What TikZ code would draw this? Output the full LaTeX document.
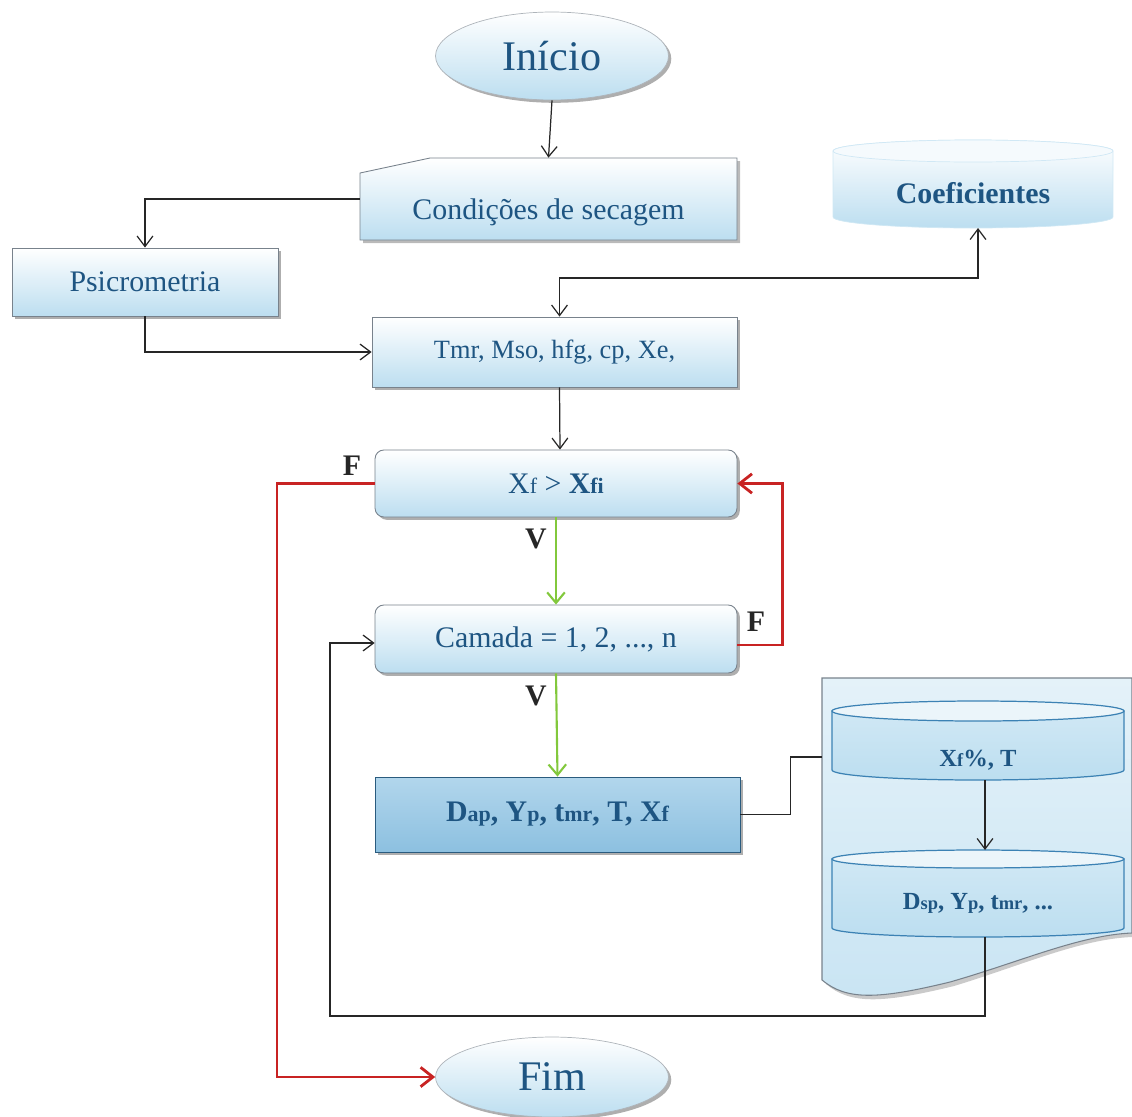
\documentclass[tikz,border=0pt]{standalone}
\usepackage{fontspec}
\setmainfont{Liberation Serif}
\usetikzlibrary{arrows.meta,shadows,shapes.geometric,calc}
\definecolor{txtblue}{RGB}{30,85,130}
\definecolor{boxblue}{RGB}{188,222,240}
\definecolor{dtop}{RGB}{178,214,236}
\definecolor{dbot}{RGB}{140,192,224}
\definecolor{edge}{RGB}{120,130,140}
\definecolor{redl}{RGB}{200,35,35}
\definecolor{greenl}{RGB}{130,200,60}
\definecolor{cylblue}{RGB}{60,130,180}
\newcommand\smA[1]{{\fontsize{12.5}{14}\selectfont #1}}
\newcommand\smB[1]{{\fontsize{10.5}{12}\selectfont #1}}
\tikzset{
  x=0.02cm, y=0.02cm,
  shad/.style={drop shadow={shadow xshift=1.6pt,shadow yshift=-1.6pt,opacity=0.45,fill=black!70}},
  box/.style={rectangle, draw=edge, line width=0.5pt, top color=white, bottom color=boxblue, shad,
    text=txtblue, font=\fontsize{17}{20}\selectfont, inner sep=0pt},
  rbox/.style={box, rounded corners=5pt},
  dbox/.style={box, top color=dtop, bottom color=dbot, draw=cylblue!70!black},
  term/.style={ellipse, draw=edge!60, line width=0.4pt, top color=white, bottom color=boxblue, shad,
    text=txtblue, font=\fontsize{24}{28}\selectfont, inner sep=0pt, minimum width=4.66cm},
  arr/.style={draw=black!85, line width=0.7pt, -{Straight Barb[length=6pt,width=9pt]}},
  redarr/.style={draw=redl, line width=1.6pt, -{Straight Barb[length=7pt,width=11pt]}},
  grarr/.style={draw=greenl, line width=1.2pt, -{Straight Barb[length=6pt,width=10pt]}},
  lbl/.style={font=\fontsize{17}{20}\selectfont\bfseries, text=black!85},
  cyltext/.style={text=txtblue, font=\fontsize{14}{17}\selectfont\bfseries}
}
\begin{document}
\begin{tikzpicture}
\useasboundingbox (0,0) rectangle (1132,-1116);

% terminals
\node[term, minimum height=1.76cm] (ini) at (552,-56) {Início};
\node[term, minimum height=1.6cm] (fim) at (552,-1077) {Fim};

% Condicoes (manual input shape)
\fill[black!60, opacity=0.45] (363,-176) -- (433,-161) -- (740,-161) -- (740,-243) -- (363,-243) -- cycle;
\path[draw=edge, line width=0.5pt, top color=white, bottom color=boxblue]
  (360,-173) -- (430,-158) -- (737,-158) -- (737,-240) -- (360,-240) -- cycle;
\node[minimum width=7.54cm, minimum height=1.64cm, inner sep=0pt] (cond) at (548.5,-199) {};
\node[text=txtblue, font=\fontsize{17}{20}\selectfont] (condt) at (548.5,-212) {Condições de secagem};

\node[box, minimum width=5.32cm, minimum height=1.36cm] (psic) at (145,-282) {Psicrometria};
\node[box, minimum width=7.3cm, minimum height=1.4cm, font=\fontsize{15}{18}\selectfont] (tmr) at (554.5,-352) {Tmr, Mso, hfg, cp, Xe,};
\node[rbox, minimum width=7.24cm, minimum height=1.34cm] (xf) at (556,-483.5) {X\smA{f} > \textbf{X\smA{fi}}};
\node[rbox, minimum width=7.24cm, minimum height=1.36cm] (cam) at (556,-639) {Camada = 1, 2, ..., n};
\node[dbox, minimum width=7.3cm, minimum height=1.5cm, font=\fontsize{17}{20}\selectfont\bfseries] (dap) at (557.5,-814.5) {D\smA{ap}, Y\smA{p}, t\smA{mr}, T, X\smA{f}};

% Coeficientes cylinder
\begin{scope}
\path[top color=white, bottom color=boxblue, draw=boxblue!70, line width=0.4pt]
  (833,-151) -- (833,-217) arc[start angle=180, end angle=360, x radius=2.8cm, y radius=0.22cm]
  -- (1113,-151) arc[start angle=0, end angle=180, x radius=2.8cm, y radius=0.22cm] -- cycle;
\draw[boxblue!70, line width=0.4pt, fill=white!85!boxblue] (973,-151) ellipse[x radius=2.8cm, y radius=0.22cm];
\node[text=txtblue, font=\fontsize{17}{20}\selectfont\bfseries] (coef) at (973,-193) {Coeficientes};
\coordinate (coefb) at (978,-228);
\end{scope}

% Document shape
\fill[black!60, opacity=0.35] (826,-682) -- (1132,-682) -- (1132,-937)
  .. controls (1080,-939) and (1020,-966) .. (954,-986)
  .. controls (880,-1004) and (850,-1004) .. (826,-984) -- cycle;
\path[draw=edge, line width=0.6pt, top color=white!60!boxblue, bottom color=boxblue!80]
  (822,-678) -- (1132,-678) -- (1132,-933)
  .. controls (1080,-935) and (1020,-962) .. (950,-982)
  .. controls (876,-1000) and (846,-1000) .. (822,-980) -- cycle;
\coordinate (docin) at (822,-757);

% cylinder 1
\path[draw=cylblue, line width=0.7pt, top color=boxblue!70, bottom color=boxblue]
  (832,-711) -- (832,-770) arc[start angle=180, end angle=360, x radius=2.92cm, y radius=0.2cm]
  -- (1124,-711) -- cycle;
\draw[cylblue, line width=0.7pt, fill=white!70!boxblue] (978,-711) ellipse[x radius=2.92cm, y radius=0.2cm];
\node[cyltext] (c1) at (978,-760) {X\smB{f}\%, T};
\coordinate (c1b) at (985,-780);

% cylinder 2
\path[draw=cylblue, line width=0.7pt, top color=boxblue!70, bottom color=boxblue]
  (832,-859) -- (832,-928) arc[start angle=180, end angle=360, x radius=2.92cm, y radius=0.18cm]
  -- (1124,-859) -- cycle;
\draw[cylblue, line width=0.7pt, fill=white!70!boxblue] (978,-859) ellipse[x radius=2.92cm, y radius=0.18cm];
\node[cyltext] (c2) at (978,-903) {D\smB{sp}, Y\smB{p}, t\smB{mr}, ...};
\coordinate (c2t) at (985,-850);
\coordinate (c2b) at (985,-937);

% connectors
\coordinate (loopc) at (330,-1016);
\coordinate (redL) at (277,-483.5);

\draw[arr] (ini.south) -- (cond.north);
\draw[arr] (cond.west) -| (psic.north);
\draw[arr] (psic.south) |- (tmr.west);
\draw[draw=black!85, line width=0.7pt, {Straight Barb[length=6pt,width=9pt]}-{Straight Barb[length=6pt,width=9pt]}]
  (coefb) -- ++(0,-50) -| ($(tmr.north)+(5,0)$);
\draw[arr] ($(tmr.south)+(5,0)$) -- ($(xf.north)+(4,0)$);
\draw[grarr] (xf.south) -- (cam.north);
\draw[grarr] (cam.south) -- (dap.north);
\draw[redarr] ($(cam.east)+(0,-6)$) -- ++(45,0) |- (xf.east);
\draw[redarr] (xf.west) -- (redL) |- (fim.west);
\draw[draw=black!85, line width=0.7pt] (dap.east) -- ++(50,0) |- (docin);
\draw[arr] (c1b) -- (c2t);
\draw[arr] (c2b) |- (loopc) |- ($(cam.west)+(0,-4)$);

% labels
\node[lbl] (v1) at (536,-539) {V};
\node[lbl] (v2) at (536,-696) {V};
\node[lbl] (f1) at (352,-466) {F};
\node[lbl] (f2) at (756,-622) {F};
\end{tikzpicture}
\end{document}
